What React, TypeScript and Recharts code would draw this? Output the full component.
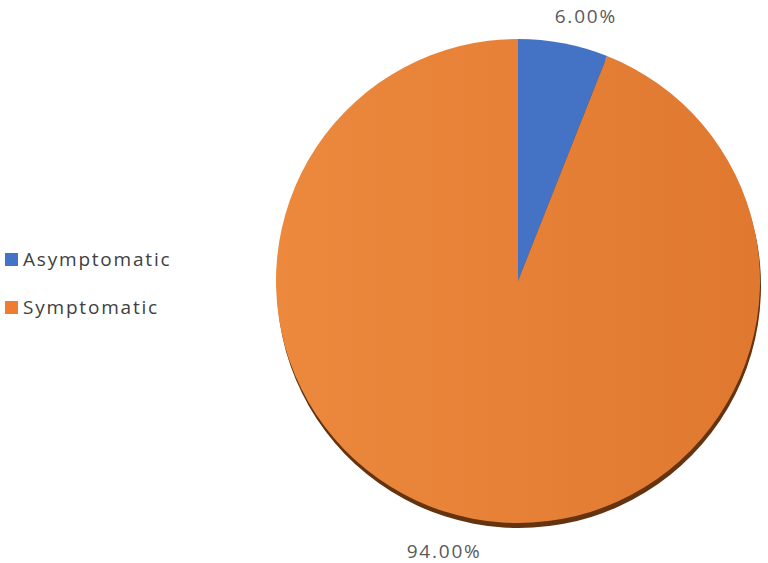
import React from "react";
import { PieChart, Pie, Cell } from "recharts";

const categories = ["Asymptomatic", "Symptomatic"];
const shares = [6.0, 94.0];
const sliceColors = ["#4472C4", "url(#orangeFill)"];
const legendColors = ["#4472C4", "#ED7D31"];

const data = categories.map((name, i) => ({ name, value: shares[i] }));

const RADIAN = Math.PI / 180;
const FONT = "'Open Sans', 'Noto Sans', sans-serif";

function renderLabel(props: any) {
  const { cx, cy, midAngle, outerRadius, index, value } = props;
  const r = outerRadius + 24;
  const x = cx + r * Math.cos(-midAngle * RADIAN) + (index === 0 ? 18 : -24);
  const y = cy + r * Math.sin(-midAngle * RADIAN) + (index === 0 ? -4 : 9);
  return (
    <text
      x={x}
      y={y}
      textAnchor="middle"
      dominantBaseline="central"
      fill="#595959"
      fontSize={19}
      letterSpacing={1.8}
      fontFamily={FONT}
    >
      {`${value.toFixed(2)}%`}
    </text>
  );
}

export default function App() {
  return (
    <div style={{ position: "absolute", left: 0, top: 0, width: 768, height: 563, background: "#fff" }}>
      <PieChart width={768} height={563} margin={{ top: 0, right: 0, bottom: 0, left: 0 }}>
        <defs>
          <linearGradient id="orangeFill" x1="0" y1="0" x2="1" y2="0">
            <stop offset="0%" stopColor="#EC893D" />
            <stop offset="100%" stopColor="#E07830" />
          </linearGradient>
        </defs>
        <Pie
          data={data}
          dataKey="value"
          nameKey="name"
          cx={519}
          cy={286}
          outerRadius={242}
          startAngle={90}
          endAngle={-270}
          stroke="none"
          fill="#643310"
          legendType="none"
          isAnimationActive={false}
        />
        <Pie
          data={data}
          dataKey="value"
          nameKey="name"
          cx={518}
          cy={281}
          outerRadius={242}
          startAngle={90}
          endAngle={-270}
          stroke="none"
          label={renderLabel}
          labelLine={false}
          isAnimationActive={false}
        >
          {data.map((d, i) => (
            <Cell key={d.name} fill={sliceColors[i]} />
          ))}
        </Pie>
      </PieChart>
      <div style={{ position: "absolute", left: 5, top: 247, fontFamily: FONT }}>
        {categories.map((c, i) => (
          <div
            key={c}
            style={{
              display: "flex",
              alignItems: "center",
              height: 24,
              marginBottom: 24,
              fontSize: 19,
              color: "#404040",
              letterSpacing: 1.8,
            }}
          >
            <span
              style={{
                width: 13,
                height: 13,
                background: legendColors[i],
                marginRight: 5,
                display: "inline-block",
              }}
            />
            {c}
          </div>
        ))}
      </div>
    </div>
  );
}
